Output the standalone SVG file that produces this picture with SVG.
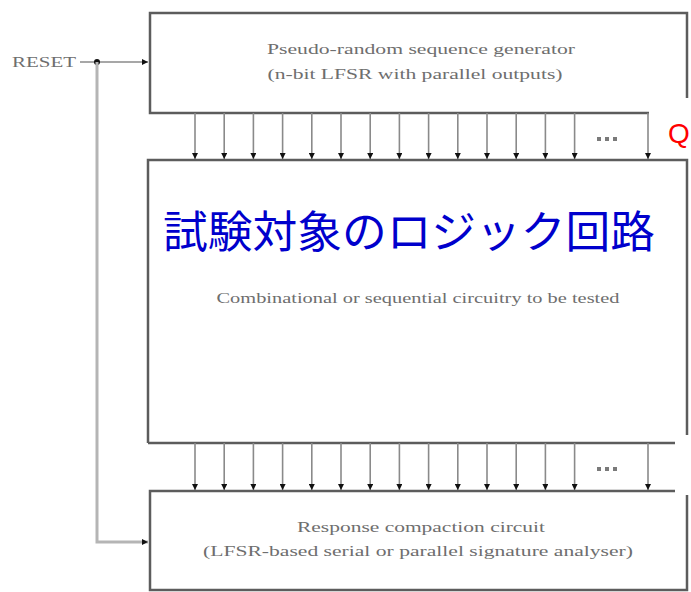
<svg xmlns="http://www.w3.org/2000/svg" width="691" height="592" viewBox="0 0 691 592">
<style>
.edge{fill:none;stroke:#5c5c5c;stroke-width:2.5}
.bus{stroke:#8a8a8a;stroke-width:1.6;fill:none}
.lbl{font-family:"Liberation Serif",serif;fill:#6e6e6e;font-size:15px}
.dot{fill:#7a7a7a}
</style>
<defs>
<marker id="ah" viewBox="0 0 6 6" refX="6" refY="3" markerWidth="6" markerHeight="6" markerUnits="userSpaceOnUse" orient="auto">
<path d="M0,0 L6,3 L0,6 Z" fill="#111"/>
</marker>
</defs>
<rect width="691" height="592" fill="#fff"/>

<g id="generator">
<path class="edge" d="M687,98 V13 H150 V113 H649"/>
<text class="lbl" x="421" y="54" text-anchor="middle" textLength="308" lengthAdjust="spacingAndGlyphs">Pseudo-random sequence generator</text>
<text class="lbl" x="415" y="79" text-anchor="middle" textLength="295" lengthAdjust="spacingAndGlyphs">(n-bit LFSR with parallel outputs)</text>
</g>

<g id="cut">
<path class="edge" d="M148,443 V160 H687 V435"/>
<path class="edge" d="M148,443 H675"/>
<text x="409" y="248" text-anchor="middle" font-family="'Noto Sans CJK JP',sans-serif" font-size="44" fill="#0000cc" textLength="492" lengthAdjust="spacingAndGlyphs">試験対象のロジック回路</text>
<text class="lbl" x="418" y="303" text-anchor="middle" textLength="403" lengthAdjust="spacingAndGlyphs">Combinational or sequential circuitry to be tested</text>
</g>

<g id="compactor">
<path class="edge" d="M675,491 H150 V590 H687 V495"/>
<text class="lbl" x="421" y="532" text-anchor="middle" textLength="248" lengthAdjust="spacingAndGlyphs">Response compaction circuit</text>
<text class="lbl" x="418" y="556" text-anchor="middle" textLength="430" lengthAdjust="spacingAndGlyphs">(LFSR-based serial or parallel signature analyser)</text>
</g>

<g id="reset">
<text class="lbl" x="12" y="67" font-size="13" textLength="64" lengthAdjust="spacingAndGlyphs">RESET</text>
</g>

<g id="q">
<text x="668" y="143" font-family="'Liberation Sans',sans-serif" font-size="28" fill="#ff0000">Q</text>
</g>

<g id="connectors">
<path class="bus" d="M80,62 H148" marker-end="url(#ah)"/>
<circle cx="97" cy="62" r="3" fill="#111"/>
<path d="M97,62 V542 H148" fill="none" stroke="#b5b5b5" stroke-width="3" marker-end="url(#ah)"/>
<g id="top-bus" class="bus" marker-end="url(#ah)">
<path d="M195,113 V159"/><path d="M224.2,113 V159"/><path d="M253.4,113 V159"/><path d="M282.6,113 V159"/><path d="M311.8,113 V159"/><path d="M341,113 V159"/><path d="M370.2,113 V159"/><path d="M399.4,113 V159"/><path d="M428.6,113 V159"/><path d="M457.8,113 V159"/><path d="M487,113 V159"/><path d="M516.2,113 V159"/><path d="M545.4,113 V159"/><path d="M574.6,113 V159"/><path d="M648,113 V159"/>
</g>
<g id="bottom-bus" class="bus" marker-end="url(#ah)">
<path d="M195,443 V490"/><path d="M224.2,443 V490"/><path d="M253.4,443 V490"/><path d="M282.6,443 V490"/><path d="M311.8,443 V490"/><path d="M341,443 V490"/><path d="M370.2,443 V490"/><path d="M399.4,443 V490"/><path d="M428.6,443 V490"/><path d="M457.8,443 V490"/><path d="M487,443 V490"/><path d="M516.2,443 V490"/><path d="M545.4,443 V490"/><path d="M574.6,443 V490"/><path d="M648,443 V490"/>
</g>
<g id="ellipsis-top" class="dot"><rect x="597" y="137" width="4" height="4"/><rect x="605" y="137" width="4" height="4"/><rect x="613" y="137" width="4" height="4"/></g>
<g id="ellipsis-bottom" class="dot"><rect x="597" y="467" width="4" height="4"/><rect x="605" y="467" width="4" height="4"/><rect x="613" y="467" width="4" height="4"/></g>
</g>
</svg>
